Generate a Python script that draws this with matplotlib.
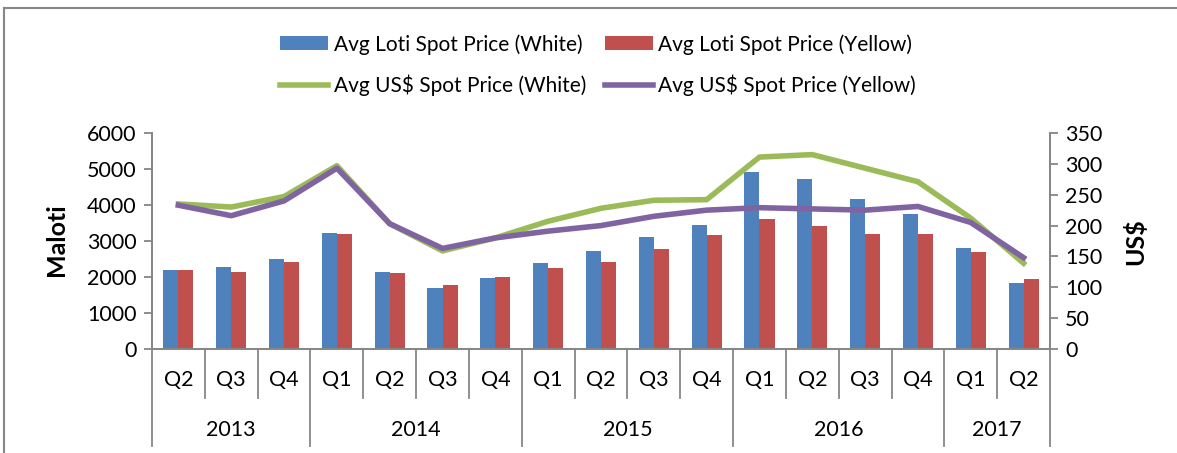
import matplotlib.pyplot as plt
import matplotlib.transforms as mtransforms
import numpy as np

plt.rcParams['font.family'] = ['Lato', 'DejaVu Sans']

# data
quarters = ['Q2', 'Q3', 'Q4', 'Q1', 'Q2', 'Q3', 'Q4', 'Q1', 'Q2', 'Q3', 'Q4',
            'Q1', 'Q2', 'Q3', 'Q4', 'Q1', 'Q2']
years = ['2013', '2014', '2015', '2016', '2017']
year_counts = [3, 4, 4, 4, 2]

loti_white = [2190, 2280, 2510, 3215, 2140, 1705, 1965, 2390, 2722, 3102, 3435,
              4910, 4722, 4160, 3750, 2796, 1825]
loti_yellow = [2190, 2140, 2408, 3185, 2125, 1770, 1990, 2250, 2407, 2769, 3178,
               3620, 3408, 3186, 3205, 2705, 1935]
usd_white = [235, 230, 247, 297, 203, 159, 180, 207, 228, 241, 242,
             311, 315, 293, 271, 212, 139]
usd_yellow = [233, 216, 240, 293, 203, 163, 180, 191, 200, 215, 225,
              229, 227, 225, 231, 205, 148]

blue = '#4F81BD'
red = '#C0504D'
green = '#9BBB59'
purple = '#8064A2'
grey = '#868686'

fig = plt.figure(figsize=(11.77, 4.53), dpi=100)
ax = fig.add_axes([152 / 1177, 104 / 453, 898 / 1177, 216 / 453])
ax2 = ax.twinx()

x = np.arange(len(quarters))
w = 0.285
b1 = ax.bar(x - w / 2, loti_white, w, color=blue, label='Avg Loti Spot Price (White)', zorder=2)
b2 = ax.bar(x + w / 2, loti_yellow, w, color=red, label='Avg Loti Spot Price (Yellow)', zorder=2)
l1, = ax2.plot(x, usd_white, color=green, lw=4, label='Avg US$ Spot Price (White)')
l2, = ax2.plot(x, usd_yellow, color=purple, lw=4, label='Avg US$ Spot Price (Yellow)')

ax.set_xlim(-0.5, len(quarters) - 0.5)
ax.set_ylim(0, 6000)
ax.set_yticks(np.arange(0, 6001, 1000))
ax2.set_ylim(0, 350)
ax2.set_yticks(np.arange(0, 351, 50))

for a in (ax, ax2):
    for s in a.spines.values():
        s.set_color(grey)
        s.set_linewidth(1.3)
    a.spines['top'].set_visible(False)
    a.tick_params(axis='y', colors=grey, labelcolor='black', labelsize=15.5,
                  length=6, width=1.3, pad=5)
ax.tick_params(axis='x', bottom=False, labelbottom=False)

# two level category axis
trans = mtransforms.blended_transform_factory(ax.transData, ax.transAxes)
for i, q in enumerate(quarters):
    ax.text(i, -0.145, q, transform=trans, ha='center', va='center', fontsize=15.5)
bounds = np.concatenate([[0], np.cumsum(year_counts)]) - 0.5
for i in range(len(quarters) + 1):
    xb = i - 0.5
    yend = -0.449 if xb in bounds else -0.227
    ax.plot([xb, xb], [0, yend], transform=trans, color=grey, lw=1.3, clip_on=False)
for j, yr in enumerate(years):
    mid = (bounds[j] + bounds[j + 1]) / 2
    ax.text(mid, -0.375, yr, transform=trans, ha='center', va='center', fontsize=15.5)

fig.text(57 / 1177, 1 - 240 / 453, 'Maloti', rotation=90, ha='center', va='center',
         fontsize=18, fontweight='bold')
fig.text(1135 / 1177, 1 - 242 / 453, 'US$', rotation=90, ha='center', va='center',
         fontsize=18, fontweight='bold')

fig.legend([b1, l1, b2, l2],
           [b1.get_label(), l1.get_label(), b2.get_label(), l2.get_label()],
           ncol=2, loc='center', bbox_to_anchor=(598 / 1177, 1 - 65 / 453),
           frameon=False, fontsize=15, handlelength=2.3, handleheight=0.65,
           handletextpad=0.25, columnspacing=0.9, labelspacing=0.95)

# outer chart border (top and left visible)
fig.add_artist(plt.Line2D([4 / 1177, 1], [1 - 8 / 453, 1 - 8 / 453], color=grey, lw=1.5,
                          transform=fig.transFigure))
fig.add_artist(plt.Line2D([4 / 1177, 4 / 1177], [0, 1 - 8 / 453], color=grey, lw=1.5,
                          transform=fig.transFigure))

fig.savefig('out.png', dpi=100)
